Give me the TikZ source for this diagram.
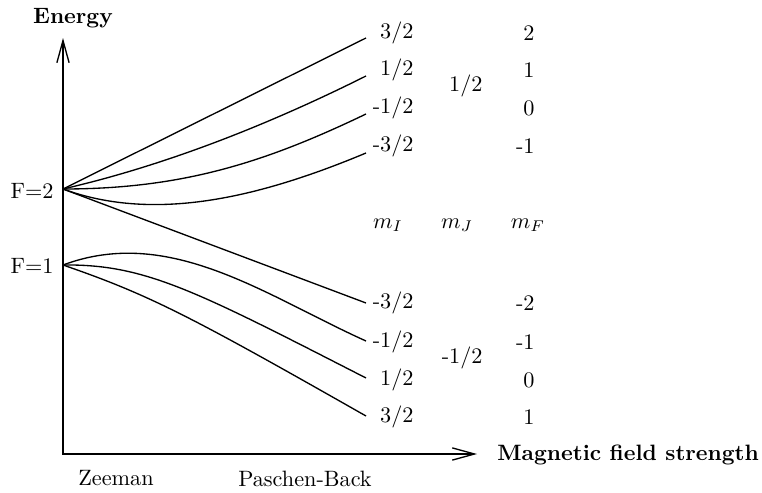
\documentclass[tikz,border=0pt]{standalone}
\usetikzlibrary{arrows.meta}
\begin{document}
\begin{tikzpicture}[x=0.45pt,y=-0.45pt,
  level/.style={line width=0.6pt},
  axis/.style={line width=0.6pt,{Straight Barb[length=10pt,width=5.5pt]}-{Straight Barb[length=10pt,width=5.5pt]}},
  lab/.style={anchor=east,inner sep=0pt},
  ctr/.style={anchor=center,inner sep=0pt},
  ttl/.style={inner sep=0pt,font=\bfseries}]
\path[use as bounding box] (0,0) rectangle (762,493);
% anchor points
\coordinate (F2) at (63,189);
\coordinate (F1) at (63,265);
\coordinate (u1) at (366,38);
\coordinate (u2) at (366,76);
\coordinate (u3) at (366,114);
\coordinate (u4) at (366,153);
\coordinate (d1) at (366,303);
\coordinate (d2) at (366,341);
\coordinate (d3) at (366,378);
\coordinate (d4) at (366,416);
\coordinate (ytip) at (63,38);
\coordinate (xtip) at (477,454);
% axes
\draw[axis] (ytip) |- (xtip);
\node[ttl,anchor=center] (energy) at (73,18) {Energy};
\node[ttl,anchor=west] (field) at (497,455) {Magnetic field strength};
\node[ctr] (zeeman) at (116,478) {Zeeman};
\node[ctr] (pb) at (305,479) {Paschen-Back};
\node[lab] (lF2) at (54,191) {F=2};
\node[lab] (lF1) at (54,266) {F=1};
% upper manifold
\draw[level] (F2) -- (u1);
\draw[level] (F2) .. controls (163,166) and (266,126) .. (u2);
\draw[level] (F2) .. controls (183,189) and (266,162) .. (u3);
\draw[level] (F2) .. controls (153,222) and (256,199) .. (u4);
\draw[level] (F2) -- (d1);
% lower manifold
\draw[level] (F1) .. controls (170,225) and (266,296) .. (d2);
\draw[level] (F1) .. controls (145,264) and (195,290.5) .. (d3);
\draw[level] (F1) .. controls (150,295) and (190,316) .. (d4);
% m_I labels
\node[lab] (mi1) at (414,33) {3/2};
\node[lab] (mi2) at (414,70) {1/2};
\node[lab] (mi3) at (414,108) {-1/2};
\node[lab] (mi4) at (414,146) {-3/2};
\node[lab] (mi5) at (414,303) {-3/2};
\node[lab] (mi6) at (414,342) {-1/2};
\node[lab] (mi7) at (414,380) {1/2};
\node[lab] (mi8) at (414,417) {3/2};
% m_J labels
\node[lab] (mj1) at (483,86) {1/2};
\node[lab] (mj2) at (483,358) {-1/2};
% m_F labels
\node[lab] (mf1) at (535,33) {2};
\node[lab] (mf2) at (535,70) {1};
\node[lab] (mf3) at (535,108) {0};
\node[lab] (mf4) at (535,146) {-1};
\node[lab] (mf5) at (535,303) {-2};
\node[lab] (mf6) at (535,342) {-1};
\node[lab] (mf7) at (535,380) {0};
\node[lab] (mf8) at (535,417) {1};
% column headers
\node[ctr] (hI) at (388,225) {$m_I$};
\node[ctr] (hJ) at (457,225) {$m_J$};
\node[ctr] (hF) at (528,225) {$m_F$};
\end{tikzpicture}
\end{document}
